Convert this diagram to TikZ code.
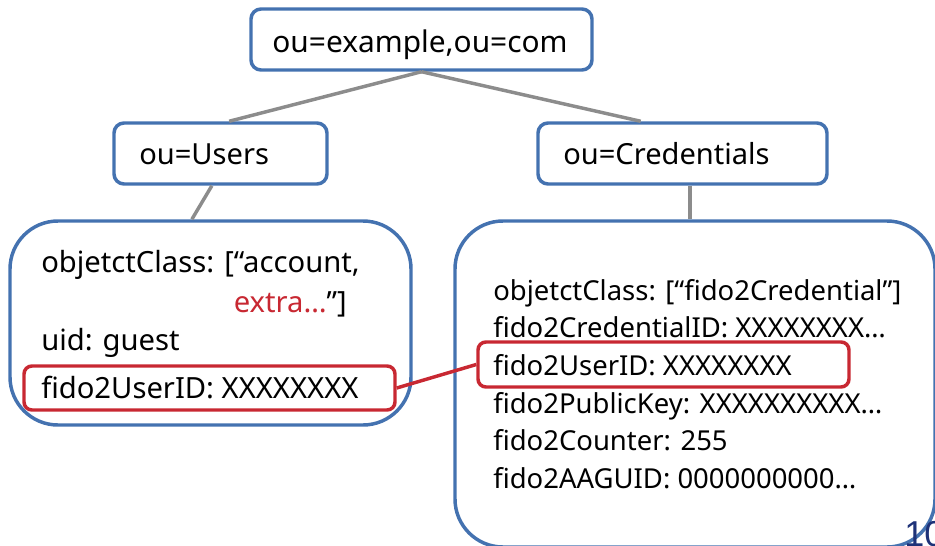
\documentclass[tikz,border=0pt]{standalone}
\usepackage{fontspec}
\setmainfont{Noto Sans}
\newfontfamily\pagefont{Liberation Sans}
\usetikzlibrary{calc}
\definecolor{boxblue}{RGB}{68,114,176}
\definecolor{linegray}{RGB}{140,140,140}
\definecolor{hlred}{RGB}{200,40,50}
\definecolor{pgblue}{RGB}{30,50,120}
\begin{document}
\begin{tikzpicture}[x=0.75pt,y=-0.75pt,
  ouBox/.style={draw=boxblue,line width=2.6pt,rounded corners=7.5pt,fill=white,inner sep=0pt},
  bigBox/.style={draw=boxblue,line width=2.6pt,rounded corners=36pt,fill=white,inner sep=0pt},
  redBox/.style={draw=hlred,line width=2.6pt,rounded corners=6pt,inner sep=0pt},
  grayLine/.style={draw=linegray,line width=2.6pt},
  redLine/.style={draw=hlred,line width=2.6pt},
  ouText/.style={anchor=base west,inner sep=0pt,font=\fontsize{21.8}{26}\selectfont},
  lText/.style={anchor=base west,inner sep=0pt,font=\fontsize{21.9}{26}\selectfont},
  rText/.style={anchor=base west,inner sep=0pt,font=\fontsize{20.6}{24}\selectfont}]
\useasboundingbox (0,0) rectangle (935,546);
\node[ouBox,minimum width=341*0.75pt,minimum height=61*0.75pt] (top) at (421.5,39.5) {};
\node[ouBox,minimum width=213*0.75pt,minimum height=61*0.75pt] (users) at (220.5,153.5) {};
\node[ouBox,minimum width=289*0.75pt,minimum height=61*0.75pt] (cred) at (682.5,153.5) {};
\node[bigBox,minimum width=401*0.75pt,minimum height=204*0.75pt] (lbox) at (210.5,323) {};
\node[bigBox,minimum width=480*0.75pt,minimum height=326*0.75pt] (rbox) at (695,384) {};
\coordinate (uTop) at ($(users.north west)!0.54!(users.north east)$);
\coordinate (cTop) at ($(cred.north west)!0.357!(cred.north east)$);
\coordinate (uBot) at ($(users.south west)!0.46!(users.south east)$);
\coordinate (lTop) at ($(lbox.north west)!0.454!(lbox.north east)$);
\coordinate (cBot) at ($(cred.south west)!0.526!(cred.south east)$);
\coordinate (rTop) at (cBot |- rbox.north);
\draw[grayLine] (top.south) -- (uTop);
\draw[grayLine] (top.south) -- (cTop);
\draw[grayLine] (uBot) -- (lTop);
\draw[grayLine] (cBot) -- (rTop);
% texts
\node[anchor=base,inner sep=0pt,font=\fontsize{22.4}{26}\selectfont] (tTop) at (420,52) {ou=example,ou=com};
\node[ouText] (tUsers) at (139,164) {ou=Users};
\node[ouText] (tCred) at (563,164) {ou=Credentials};
\node[lText] (l1) at (41,272) {objetctClass: [“account,};
\node[anchor=base east,inner sep=0pt,font=\fontsize{21.9}{26}\selectfont] (l2) at (347,312) {\textcolor{hlred}{extra…}”]};
\node[lText] (l3) at (41,350) {uid: guest};
\node[lText] (l4) at (41,398) {fido2UserID: XXXXXXXX};
\node[rText] (r1) at (493,300) {objetctClass: [“fido2Credential”]};
\node[rText] (r2) at (493,337) {fido2CredentialID: XXXXXXXX…};
\node[rText] (r3) at (493,375) {fido2UserID: XXXXXXXX};
\node[rText] (r4) at (493,413) {fido2PublicKey: XXXXXXXXXX…};
\node[rText] (r5) at (493,450) {fido2Counter: 255};
\node[rText] (r6) at (493,488) {fido2AAGUID: 0000000000…};
% red highlight boxes
\node[redBox,minimum width=371*0.75pt,minimum height=44*0.75pt] (redL) at (209.5,388) {};
\node[redBox,minimum width=371*0.75pt,minimum height=45*0.75pt] (redR) at (663.5,364.5) {};
\draw[redLine] (redL.east) -- (redR.west);
% page number
\node[anchor=base west,inner sep=0pt,text=pgblue,font=\pagefont\fontsize{27}{30}\selectfont] (pg) at (904,546) {10};
\end{tikzpicture}
\end{document}
